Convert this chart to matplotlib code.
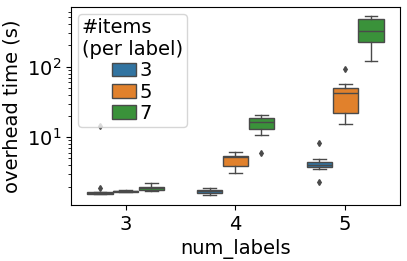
import matplotlib.pyplot as plt
from matplotlib.patches import Patch

# box statistics: one entry per (num_labels, #items) group
num_labels = ["3", "4", "5"]
items = ["3", "5", "7"]
colors = ["#3274a1", "#e1812c", "#3a923a"]

# ordered as [items=3, items=5, items=7] for each num_labels value
whislo = [[1.56, 1.65, 1.72], [1.50, 3.1, 10.9], [3.5, 15.2, 121]]
q1 = [[1.58, 1.68, 1.80], [1.63, 3.9, 13.0], [3.8, 21.8, 225]]
med = [[1.62, 1.72, 1.90], [1.72, 5.2, 16.3], [4.0, 43.0, 321]]
q3 = [[1.65, 1.75, 2.00], [1.81, 5.4, 18.5], [4.4, 50.6, 474]]
whishi = [[1.68, 1.78, 2.25], [1.89, 6.1, 21.0], [4.9, 56.0, 523]]
fliers = [[[14.4, 1.93], [], []], [[], [], [6.0]], [[8.2, 2.3], [93.7], []]]


def main():
    plt.rcParams["font.size"] = 14
    fig, ax = plt.subplots(figsize=(4.07, 2.61), dpi=100)
    fig.subplots_adjust(left=0.174, right=0.983, top=0.972, bottom=0.215)

    line_color = "#4a4a4a"
    offsets = [-0.235, 0.0, 0.235]
    for i in range(len(num_labels)):
        for j in range(len(items)):
            stats = [{
                "whislo": whislo[i][j], "q1": q1[i][j], "med": med[i][j],
                "q3": q3[i][j], "whishi": whishi[i][j], "fliers": fliers[i][j],
            }]
            ax.bxp(
                stats,
                positions=[i + offsets[j]],
                widths=0.23,
                patch_artist=True,
                boxprops=dict(facecolor=colors[j], edgecolor=line_color, linewidth=1.0),
                medianprops=dict(color=line_color, linewidth=1.0),
                whiskerprops=dict(color=line_color, linewidth=1.0),
                capprops=dict(color=line_color, linewidth=1.0),
                flierprops=dict(marker="d", markersize=3, markerfacecolor=line_color,
                                markeredgecolor=line_color),
                manage_ticks=False,
            )

    ax.set_yscale("log")
    ax.set_ylim(1.10, 694)
    ax.set_xlim(-0.5, 2.5)
    ax.set_xticks(range(len(num_labels)))
    ax.set_xticklabels(num_labels)
    ax.set_xlabel("num_labels")
    ax.set_ylabel("overhead time (s)")

    handles = [Patch(facecolor=c, edgecolor=line_color, label=lab) for c, lab in zip(colors, items)]
    ax.legend(handles=handles, title="#items\n(per label)", loc="upper left",
              fontsize=14, title_fontsize=14, borderaxespad=0.35,
              handlelength=1.2, handletextpad=0.2, labelspacing=0.12, borderpad=0.2)

    fig.savefig("out.png", dpi=100)
    plt.close(fig)


if __name__ == "__main__":
    main()
